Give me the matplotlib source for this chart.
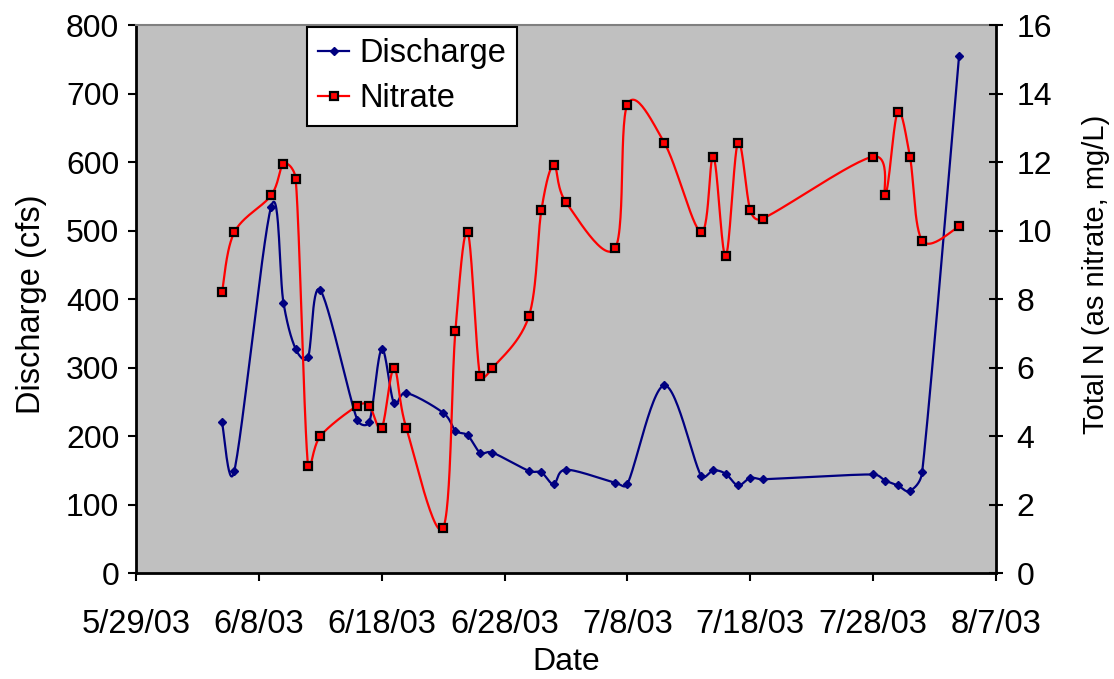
import numpy as np
import matplotlib
matplotlib.use("Agg")
from matplotlib import pyplot as plt
import matplotlib.dates as mdates
from datetime import date, timedelta

plt.rcParams["font.family"] = ["Liberation Sans", "DejaVu Sans"]
plt.rcParams["font.size"] = 23

# sampling dates (2003) shared by both series
dates = ["6/5", "6/6", "6/9", "6/10", "6/11", "6/12", "6/13", "6/16", "6/17",
         "6/18", "6/19", "6/20", "6/23", "6/24", "6/25", "6/26", "6/27", "6/30",
         "7/1", "7/2", "7/3", "7/7", "7/8", "7/11", "7/14", "7/15", "7/16",
         "7/17", "7/18", "7/19", "7/28", "7/29", "7/30", "7/31", "8/1", "8/4"]

discharge = [220, 149, 535, 395, 327, 315, 413, 224, 221, 327, 248, 263,
             234, 208, 201, 176, 176, 149, 147, 130, 151, 132, 130, 274,
             142, 150, 145, 128, 139, 137, 144, 135, 128, 120, 148, 755]

nitrate = [8.2, 9.95, 11.03, 11.95, 11.5, 3.13, 4.0, 4.88, 4.88, 4.24, 5.98,
           4.24, 1.32, 7.08, 9.95, 5.76, 5.98, 7.52, 10.6, 11.92, 10.83, 9.48,
           13.68, 12.57, 9.95, 12.16, 9.25, 12.57, 10.6, 10.35, 12.16, 11.04,
           13.45, 12.16, 9.71, 10.12]

x_start = date(2003, 5, 29)
x_end = date(2003, 8, 7)


def to_date(s):
    m, d = s.split("/")
    return date(2003, int(m), int(d))


def smooth(ax, x, y, n=30):
    # spreadsheet-style smoothed line: cubic Bezier through every point,
    # tangents from the neighbours (1/6 tension), shortened in screen space
    # so no control arm is longer than half of its segment
    pts = ax.transData.transform(np.column_stack([x, y]))
    p = np.vstack([pts[0], pts, pts[-1]])
    t = np.linspace(0, 1, n)[:, None]
    out = []
    for i in range(1, len(p) - 2):
        p0, p1, p2, p3 = p[i - 1], p[i], p[i + 1], p[i + 2]
        d12 = np.hypot(*(p2 - p1))
        d02 = np.hypot(*(p2 - p0))
        d13 = np.hypot(*(p3 - p1))
        f1 = 1 / 6 if d02 / 6 < d12 / 2 else d12 / (2 * d02 + 1e-9)
        f2 = 1 / 6 if d13 / 6 < d12 / 2 else d12 / (2 * d13 + 1e-9)
        c1 = p1 + f1 * (p2 - p0)
        c2 = p2 - f2 * (p3 - p1)
        seg = ((1 - t) ** 3 * p1 + 3 * (1 - t) ** 2 * t * c1
               + 3 * (1 - t) * t ** 2 * c2 + t ** 3 * p2)
        out.append(seg if i == 1 else seg[1:])
    out = ax.transData.inverted().transform(np.vstack(out))
    return out[:, 0], out[:, 1]


xd = mdates.date2num([to_date(s) for s in dates])

fig, ax1 = plt.subplots(figsize=(11.14, 6.79), dpi=100)
fig.subplots_adjust(left=0.1221, right=0.894, bottom=0.156, top=0.963)
ax2 = ax1.twinx()

ax1.set_facecolor("#C0C0C0")

ax1.set_xlim(mdates.date2num(x_start), mdates.date2num(x_end))
ax1.set_ylim(0, 800)
ax2.set_ylim(0, 16)

navy = "#000080"
sx, sy = smooth(ax1, xd, discharge)
ax1.plot(sx, sy, color=navy, lw=1.6, zorder=2)
ax1.plot(xd, discharge, ls="none", marker="D", ms=4.5, color=navy, zorder=3)

sx, sy = smooth(ax2, xd, nitrate)
ax2.plot(sx, sy, color="red", lw=1.6, zorder=2)
ax2.plot(xd, nitrate, ls="none", marker="s", ms=6, mfc="red", mec="black",
         mew=1.6, zorder=3)

ticks = [x_start + timedelta(days=10 * i) for i in range(8)]
ax1.set_xticks(mdates.date2num(ticks))
ax1.set_xticklabels([f"{d.month}/{d.day}/{d:%y}" for d in ticks])
ax1.set_yticks(np.arange(0, 801, 100))
ax2.set_yticks(np.arange(0, 17, 2))

ax1.tick_params(axis="x", direction="out", length=6, width=1.5, pad=20,
                labelsize=23.5)
ax1.tick_params(axis="y", direction="out", length=6, width=1.5, pad=6)
ax2.tick_params(axis="y", direction="inout", length=10, width=1.5, pad=10)

for s in ["left", "bottom"]:
    ax1.spines[s].set_linewidth(2)
    ax1.spines[s].set_color("black")
ax1.spines["top"].set_color("#808080")
ax1.spines["top"].set_linewidth(1.5)
ax1.spines["right"].set_visible(False)
for s in ["left", "top", "bottom"]:
    ax2.spines[s].set_visible(False)
ax2.spines["right"].set_linewidth(2)

ax1.set_xlabel("Date", labelpad=5, fontsize=23)
ax1.set_ylabel("Discharge (cfs)", fontsize=23.5)
ax1.yaxis.set_label_coords(-0.104, 0.49)
ax2.set_ylabel("Total N (as nitrate, mg/L)", fontsize=21)
ax2.yaxis.set_label_coords(1.1, 0.545)

h1 = plt.Line2D([], [], color=navy, lw=1.6, marker="D", ms=4.5)
h2 = plt.Line2D([], [], color="red", lw=1.6, marker="s", ms=5.5,
                mfc="red", mec="black", mew=1.6)
leg = ax2.legend([h1, h2], ["Discharge", "Nitrate"], loc="upper left",
                 bbox_to_anchor=(0.1988, 0.9965), fancybox=False, framealpha=1,
                 edgecolor="black", fontsize=23.5, handlelength=0.95,
                 handletextpad=0.3, borderpad=0.35, labelspacing=0.42,
                 borderaxespad=0)
leg.get_frame().set_linewidth(1.5)

fig.savefig("out.png", dpi=100)
